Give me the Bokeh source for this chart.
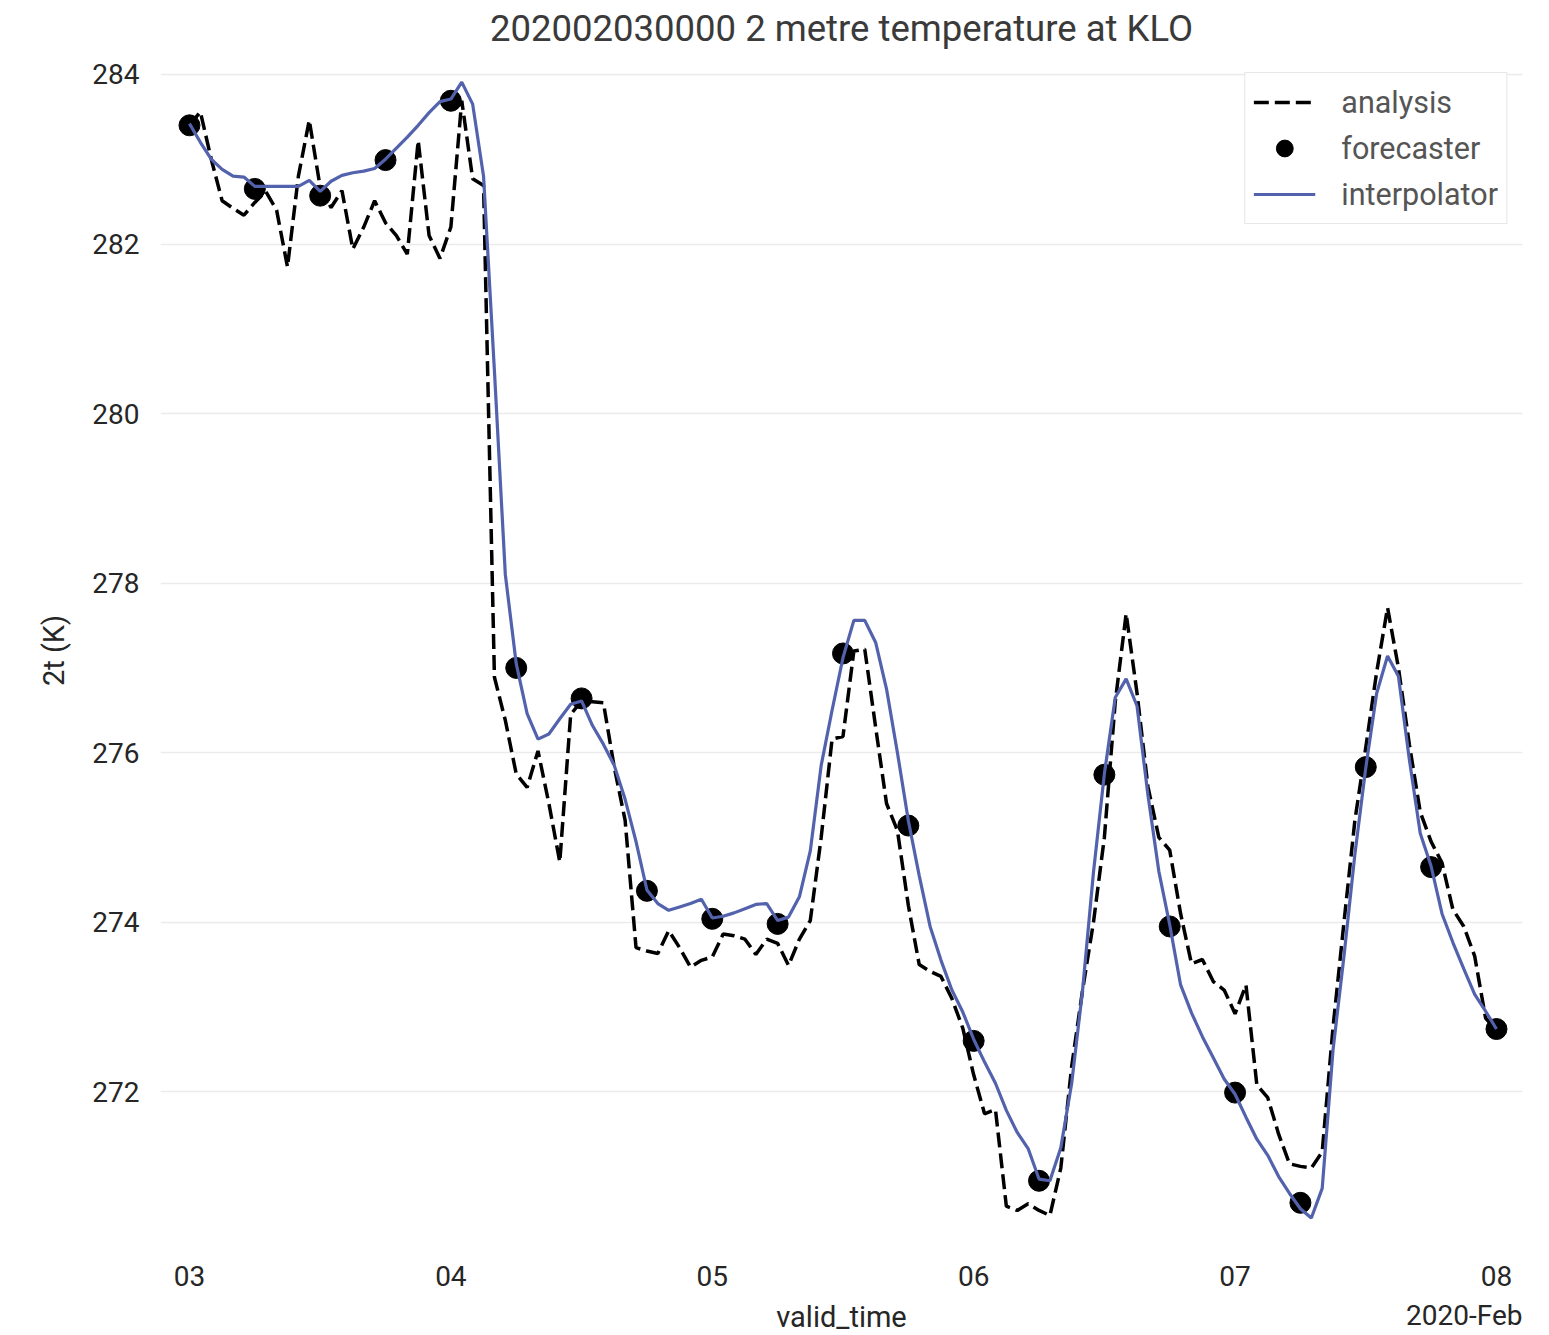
import pandas as pd
from bokeh.plotting import figure
from bokeh.models import (Range1d, FixedTicker, DatetimeTickFormatter, Legend, LegendItem, Title)
from bokeh.embed import file_html
from bokeh.resources import INLINE

# ---------------- data ----------------
start_time = "2020-02-03 00:00"
analysis_2t = [
    283.40, 283.56, 283.00, 282.51, 282.42, 282.34, 282.49, 282.62, 282.40, 281.73,
    282.80, 283.46, 282.67, 282.43, 282.63, 281.94, 282.20, 282.51, 282.25, 282.10,
    281.88, 283.22, 282.10, 281.83, 282.20, 283.69, 282.77, 282.69, 276.89, 276.38,
    275.75, 275.59, 276.02, 275.40, 274.71, 276.45, 276.61, 276.60, 276.59, 275.83,
    275.20, 273.70, 273.66, 273.63, 273.90, 273.70, 273.47, 273.55, 273.59, 273.86,
    273.84, 273.80, 273.62, 273.80, 273.75, 273.49, 273.80, 274.02, 275.00, 276.16,
    276.19, 277.20, 277.22, 276.30, 275.40, 275.08, 274.20, 273.50, 273.42, 273.36,
    273.10, 272.75, 272.20, 271.74, 271.79, 270.65, 270.60, 270.68, 270.60, 270.54,
    271.10, 272.30, 273.20, 274.00, 275.00, 276.60, 277.64, 276.70, 275.60, 275.00,
    274.85, 274.10, 273.51, 273.56, 273.30, 273.20, 272.92, 273.26, 272.08, 271.93,
    271.50, 271.15, 271.12, 271.10, 271.29, 272.77, 274.00, 275.20, 276.06, 276.95,
    277.71, 277.00, 276.10, 275.30, 274.95, 274.70, 274.15, 273.95, 273.60, 272.87,
    272.72,
]
interpolator_2t = [
    283.42, 283.20, 283.00, 282.88, 282.80, 282.79, 282.68, 282.68, 282.68, 282.68,
    282.68, 282.75, 282.62, 282.74, 282.81, 282.84, 282.86, 282.89, 283.00, 283.13,
    283.26, 283.40, 283.55, 283.68, 283.71, 283.91, 283.65, 282.80, 280.50, 278.10,
    277.05, 276.46, 276.16, 276.22, 276.40, 276.57, 276.61, 276.32, 276.10, 275.85,
    275.45, 274.95, 274.38, 274.22, 274.14, 274.18, 274.22, 274.27, 274.05, 274.07,
    274.11, 274.16, 274.21, 274.22, 274.02, 274.06, 274.30, 274.84, 275.85, 276.50,
    277.12, 277.56, 277.56, 277.30, 276.75, 276.00, 275.20, 274.55, 273.95, 273.55,
    273.20, 272.94, 272.62, 272.35, 272.10, 271.78, 271.52, 271.33, 270.97, 270.95,
    271.34, 272.10, 273.20, 274.59, 275.75, 276.65, 276.87, 276.55, 275.50, 274.60,
    273.97, 273.26, 272.93, 272.65, 272.40, 272.15, 271.97, 271.70, 271.44, 271.25,
    271.00, 270.80, 270.62, 270.51, 270.86, 272.50, 273.60, 274.80, 275.82, 276.70,
    277.14, 276.90, 275.92, 275.05, 274.66, 274.10, 273.76, 273.45, 273.15, 272.95,
    272.74,
]
forecaster_2t = [
    283.40, 282.65, 282.57, 282.99, 283.69, 277.00, 276.64, 274.37, 274.04, 273.98,
    277.17, 275.14, 272.60, 270.95, 275.74, 273.95, 271.99, 270.69, 275.83, 274.65,
    272.74,
]
y_ticks = [272, 274, 276, 278, 280, 282, 284]
x_tick_days = ["2020-02-03", "2020-02-04", "2020-02-05", "2020-02-06", "2020-02-07", "2020-02-08"]
title_text = "202002030000 2 metre temperature at KLO"
offset_text = "2020-Feb"

hourly = pd.date_range(start_time, periods=len(analysis_2t), freq="h")
six_hourly = pd.date_range(start_time, periods=len(forecaster_2t), freq="6h")
t0 = pd.Timestamp(start_time)

FONT = "Roboto"

x_end = t0 + pd.Timedelta(hours=122.39)
x_range = Range1d(t0 - pd.Timedelta(hours=2.66), x_end)
y_range = Range1d(270.21, 284.20)

p = figure(
    x_axis_type="datetime",
    x_range=x_range, y_range=y_range,
    frame_width=1362, frame_height=1186,
    min_border_left=160, min_border_right=12, min_border_top=57, min_border_bottom=78,
    output_backend="svg", toolbar_location=None,
    title=title_text,
)
p.outline_line_color = None
p.background_fill_color = "white"

p.title.text_font = FONT
p.title.text_font_size = "36.5px"
p.title.text_font_style = "normal"
p.title.text_color = "#3a3a3a"
p.title.align = "center"
p.title.vertical_align = "top"
p.title.standoff = 12
p.title.offset = 0

# axes
for ax in (p.xaxis[0], p.yaxis[0]):
    ax.axis_line_color = None
    ax.major_tick_line_color = None
    ax.minor_tick_line_color = None
    ax.major_label_text_font = FONT
    ax.major_label_text_font_size = "28px"
    ax.major_label_text_color = "#262626"
    ax.axis_label_text_font = FONT
    ax.axis_label_text_font_size = "29px"
    ax.axis_label_text_font_style = "normal"
    ax.axis_label_text_color = "#262626"

p.yaxis.ticker = FixedTicker(ticks=y_ticks)
p.yaxis.axis_label = "2t (K)"
p.yaxis.major_label_standoff = 15
p.yaxis.axis_label_standoff = 18

p.xaxis.ticker = FixedTicker(ticks=[pd.Timestamp(d).value / 1e6 for d in x_tick_days])
p.xaxis.formatter = DatetimeTickFormatter(days="%d", months="%d", hours="%d", years="%d")
p.xaxis.axis_label = "valid_time"
p.xaxis.major_label_standoff = 16
p.xaxis.axis_label_standoff = 11

p.xgrid.grid_line_color = None
p.ygrid.ticker = FixedTicker(ticks=y_ticks)
p.ygrid.grid_line_color = "#ebebeb"
p.ygrid.grid_line_width = 1.5

# glyphs
r_an = p.line(hourly, analysis_2t, line_color="black", line_width=3.5, line_dash="15 6")
r_fc = p.scatter(six_hourly, forecaster_2t, size=21, fill_color="black", line_color="black")
r_ip = p.line(hourly, interpolator_2t, line_color="#5362ac", line_width=3.2)

legend = Legend(
    items=[LegendItem(label="analysis", renderers=[r_an]),
           LegendItem(label="forecaster", renderers=[r_fc]),
           LegendItem(label="interpolator", renderers=[r_ip])],
    location="top_right",
    label_text_font=FONT, label_text_font_size="30.5px", label_text_color="#555555",
    glyph_width=62, glyph_height=42, label_height=42, label_standoff=26,
    spacing=4, padding=8, margin=15,
    border_line_color="#d0d0d0", border_line_width=1.5,
    background_fill_color="white", background_fill_alpha=0.9,
)
p.add_layout(legend, "center")

offset_title = Title(
    text=offset_text, align="right", vertical_align="top", standoff=-76,
    text_font=FONT, text_font_size="28px", text_font_style="normal", text_color="#262626",
)
p.add_layout(offset_title, "below")

open("out.html", "w").write(file_html(p, INLINE))
